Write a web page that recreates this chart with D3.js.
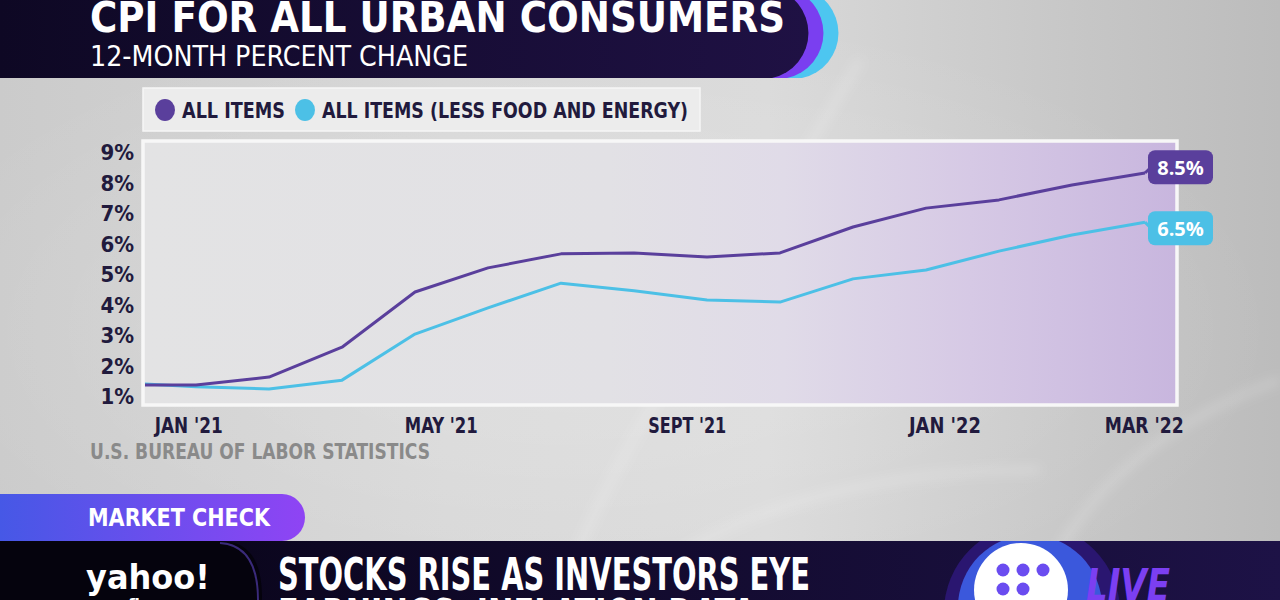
<!DOCTYPE html>
<html><head><meta charset="utf-8">
<script src="https://cdn.jsdelivr.net/npm/d3@7"></script>
<style>html,body{margin:0;padding:0;background:#d0d0d0;overflow:hidden}</style>
</head><body><svg id="c" width="1280" height="600"></svg>
<script>
// ---- data ----
const months = ["JAN '21","FEB '21","MAR '21","APR '21","MAY '21","JUN '21","JUL '21","AUG '21","SEPT '21","OCT '21","NOV '21","DEC '21","JAN '22","FEB '22","MAR '22"];
const allItems  = [1.36,1.36,1.62,2.60,4.41,5.20,5.66,5.69,5.56,5.69,6.54,7.16,7.43,7.92,8.31];
const coreItems = [1.43,1.30,1.23,1.52,3.03,3.89,4.70,4.45,4.15,4.08,4.84,5.13,5.75,6.28,6.70];
const yTicks = [1,2,3,4,5,6,7,8,9];
const xTickLabels = ["JAN '21","MAY '21","SEPT '21","JAN '22","MAR '22"];
const xTickAt = [0.9, 4.36, 7.73, 11.26, 13.99]; // label positions in month-index units
const xTickWidths = [68,73,78,72,79];
const seriesNames = ["ALL ITEMS","ALL ITEMS (LESS FOOD AND ENERGY)"];
const endValues = [8.5, 6.5];
const endLabels = ["8.5%","6.5%"];
const title = "CPI FOR ALL URBAN CONSUMERS";
const subtitle = "12-MONTH PERCENT CHANGE";
const source = "U.S. BUREAU OF LABOR STATISTICS";

// ---- styles ----
const PURPLE = "#5a3f9c", CYAN = "#4cc0e6", NAVY = "#211a3d";
const NARROW = "'Liberation Sans Narrow','DejaVu Sans Condensed',sans-serif";

const svg = d3.select("#c");
const defs = svg.append("defs");

const bg = defs.append("linearGradient").attr("id","bg").attr("x1",0).attr("x2",1).attr("y1",0).attr("y2",0);
[[0,"#cbcbcb"],[0.35,"#d6d6d6"],[0.6,"#d9d9d9"],[0.85,"#c6c6c6"],[1,"#bcbcbc"]].forEach(([o,c])=>bg.append("stop").attr("offset",o).attr("stop-color",c));
const hl = defs.append("radialGradient").attr("id","hl").attr("cx",0.45).attr("cy",0.55).attr("r",0.55);
hl.append("stop").attr("offset",0).attr("stop-color","#fff").attr("stop-opacity",0.25);
hl.append("stop").attr("offset",1).attr("stop-color","#fff").attr("stop-opacity",0);
const plotG = defs.append("linearGradient").attr("id","plotbg").attr("x1",0).attr("x2",1).attr("y1",0).attr("y2",0);
[[0,"#e3e3e4"],[0.45,"#e2e1e5"],[0.62,"#e0dbe8"],[0.8,"#d6c9e5"],[1,"#c8b6de"]].forEach(([o,c])=>plotG.append("stop").attr("offset",o).attr("stop-color",c));
const banner = defs.append("linearGradient").attr("id","banner").attr("x1",0).attr("x2",1);
banner.append("stop").attr("offset",0).attr("stop-color","#0e0824");
banner.append("stop").attr("offset",1).attr("stop-color","#1f1144");
const tab = defs.append("linearGradient").attr("id","tab").attr("x1",0).attr("x2",1);
tab.append("stop").attr("offset",0).attr("stop-color","#4658e6");
tab.append("stop").attr("offset",1).attr("stop-color","#8f44f4");
const bar = defs.append("linearGradient").attr("id","bar").attr("x1",0).attr("x2",1);
bar.append("stop").attr("offset",0).attr("stop-color","#05030f");
bar.append("stop").attr("offset",0.25).attr("stop-color","#0d0722");
bar.append("stop").attr("offset",1).attr("stop-color","#1d1246");
defs.append("filter").attr("id","blur").append("feGaussianBlur").attr("stdDeviation",6);
defs.append("clipPath").attr("id","barclip").append("rect").attr("x",0).attr("y",541).attr("width",1280).attr("height",59);

svg.append("rect").attr("width",1280).attr("height",600).attr("fill","url(#bg)");
svg.append("rect").attr("width",1280).attr("height",600).attr("fill","url(#hl)");
const sw = svg.append("g").attr("fill","none").attr("stroke","#ffffff").attr("stroke-opacity",0.3).attr("stroke-width",5).attr("filter","url(#blur)");
sw.append("path").attr("d","M560,600 C600,470 720,300 860,60");
sw.append("path").attr("d","M620,600 C700,520 850,470 1040,470");
sw.append("path").attr("d","M1040,600 C1060,520 1140,430 1280,380");

// ---- title banner ----
const tb = svg.append("g");
const bannerPath = (R)=>`M0,-12 H${R-46} A46,46 0 0 1 ${R-46},78 H0 Z`;
tb.append("path").attr("d",bannerPath(848)).attr("fill","#4dc6f0");
tb.append("path").attr("d",bannerPath(833)).attr("fill","#7a3ff0");
tb.append("path").attr("d",bannerPath(818)).attr("fill","url(#banner)");
tb.append("text").attr("x",90).attr("y",32).attr("fill","#fff")
  .attr("font-family",NARROW).attr("font-weight",700).attr("font-size",42)
  .attr("textLength",695).attr("lengthAdjust","spacingAndGlyphs").text(title);
tb.append("text").attr("x",90).attr("y",66).attr("fill","#fff")
  .attr("font-family",NARROW).attr("font-weight",400).attr("font-size",28)
  .attr("textLength",378).attr("lengthAdjust","spacingAndGlyphs").text(subtitle);

// ---- legend ----
const lg = svg.append("g");
lg.append("rect").attr("x",143).attr("y",88).attr("width",557).attr("height",43).attr("fill","#ececec").attr("stroke","#f6f6f6").attr("stroke-width",1.5);
const legItems = [{c:PURPLE,cx:165,tx:182,w:103},{c:CYAN,cx:305,tx:322,w:366}];
legItems.forEach((d,i)=>{
  lg.append("ellipse").attr("cx",d.cx).attr("cy",110).attr("rx",10).attr("ry",11).attr("fill",d.c);
  lg.append("text").attr("x",d.tx).attr("y",118).attr("fill",NAVY).attr("font-family",NARROW)
    .attr("font-weight",700).attr("font-size",22).attr("textLength",d.w).attr("lengthAdjust","spacingAndGlyphs").text(seriesNames[i]);
});

// ---- plot ----
const plot = {x0:143,x1:1177,y0:141,y1:405};
const x = d3.scaleLinear().domain([0,months.length-1]).range([123,1145]);
const y = d3.scaleLinear().domain([1,9]).range([396,152]);

svg.append("rect").attr("x",plot.x0).attr("y",plot.y0).attr("width",plot.x1-plot.x0).attr("height",plot.y1-plot.y0)
  .attr("fill","url(#plotbg)").attr("stroke","#f7f7f7").attr("stroke-width",3.5);
defs.append("clipPath").attr("id","clip").append("rect").attr("x",plot.x0+2).attr("y",plot.y0).attr("width",plot.x1-plot.x0).attr("height",plot.y1-plot.y0);

const line = d3.line().x((d,i)=>x(i)).y(d=>y(d));
const lines = svg.append("g").attr("clip-path","url(#clip)").attr("fill","none").attr("stroke-width",3).attr("stroke-linejoin","round");
lines.append("path").attr("d",line(coreItems)).attr("stroke",CYAN);
lines.append("path").attr("d",line(allItems)).attr("stroke",PURPLE);

const yAxis = d3.axisLeft(y).tickValues(yTicks).tickFormat(d=>d+"%").tickSize(0).tickPadding(0);
const ya = svg.append("g").attr("transform","translate(134,0)").call(yAxis);
ya.select(".domain").remove();
ya.selectAll("text").attr("fill",NAVY).attr("font-family",NARROW).attr("font-weight",700).attr("font-size",22).attr("dy","0.36em");

const xa = svg.append("g");
xa.selectAll("text").data(xTickLabels).join("text")
  .attr("x",(d,i)=>x(xTickAt[i])-xTickWidths[i]/2).attr("y",433)
  .attr("fill",NAVY).attr("font-family",NARROW).attr("font-weight",700).attr("font-size",22)
  .attr("textLength",(d,i)=>xTickWidths[i]).attr("lengthAdjust","spacingAndGlyphs").text(d=>d);

svg.append("text").attr("x",90).attr("y",459).attr("fill","#8a8a8a").attr("font-family",NARROW)
  .attr("font-weight",700).attr("font-size",21).attr("textLength",340).attr("lengthAdjust","spacingAndGlyphs").text(source);

const ends = [{v:allItems,c:PURPLE},{v:coreItems,c:CYAN}];
ends.forEach((d,i)=>{
  const last = d.v.length-1;
  const ly = y(endValues[i]);
  svg.append("path").attr("d",`M${x(last)},${y(d.v[last])} L${x(last)+6},${ly}`).attr("stroke",d.c).attr("stroke-width",3).attr("fill","none");
  svg.append("rect").attr("x",1148).attr("y",ly-17).attr("width",65).attr("height",34).attr("rx",7).attr("fill",d.c);
  svg.append("text").attr("x",1180.5).attr("y",ly+7.5).attr("text-anchor","middle").attr("fill","#fff")
    .attr("font-family","'Open Sans',sans-serif").attr("font-weight",700).attr("font-size",20).text(endLabels[i]);
});

// ---- market check tab ----
svg.append("path").attr("d","M0,494 H282 A23,23.5 0 0 1 282,541 H0 Z").attr("fill","url(#tab)");
svg.append("text").attr("x",88).attr("y",526).attr("fill","#fff").attr("font-family",NARROW).attr("font-weight",700)
  .attr("font-size",25).attr("textLength",182).attr("lengthAdjust","spacingAndGlyphs").text("MARKET CHECK");

// ---- bottom bar ----
svg.append("rect").attr("x",0).attr("y",541).attr("width",1280).attr("height",59).attr("fill","url(#bar)");
svg.append("path").attr("d","M0,541 H220 C258,541 262,575 262,600 H0 Z").attr("fill","#05030d");
svg.append("path").attr("d","M220,543 C252,545 258,575 258,600").attr("fill","none").attr("stroke","#3a2a7a").attr("stroke-width",2);
svg.append("text").attr("x",86).attr("y",589).attr("fill","#fff").attr("font-family","'DejaVu Sans',sans-serif")
  .attr("font-weight",700).attr("font-size",34).attr("textLength",124).attr("lengthAdjust","spacingAndGlyphs").text("yahoo!");
svg.append("text").attr("x",128).attr("y",610).attr("fill","#fff").attr("font-family","'DejaVu Sans',sans-serif")
  .attr("font-weight",700).attr("font-size",16).text("finance");
svg.append("text").attr("x",278).attr("y",590).attr("fill","#fff").attr("font-family",NARROW).attr("font-weight",700)
  .attr("font-size",45).attr("textLength",532).attr("lengthAdjust","spacingAndGlyphs").text("STOCKS RISE AS INVESTORS EYE");
svg.append("text").attr("x",278).attr("y",631).attr("fill","#fff").attr("font-family",NARROW).attr("font-weight",700)
  .attr("font-size",45).attr("textLength",478).attr("lengthAdjust","spacingAndGlyphs").text("EARNINGS, INFLATION DATA");

// live logo
const lv = svg.append("g").attr("clip-path","url(#barclip)");
lv.append("circle").attr("cx",1032).attr("cy",612).attr("r",88).attr("fill","#2a1670");
lv.append("circle").attr("cx",1030).attr("cy",607).attr("r",72).attr("fill","#3b58dc");
lv.append("circle").attr("cx",1021).attr("cy",590).attr("r",47).attr("fill","#ffffff");
const dots = [[1003,570],[1023,570],[1043,570],[1003,589],[1023,589],[1003,608]];
lv.selectAll(".dot").data(dots).join("circle").attr("cx",d=>d[0]).attr("cy",d=>d[1]).attr("r",6.5).attr("fill","#6a4cf0");
svg.append("text").attr("x",1086).attr("y",601).attr("fill","#7b3ff2").attr("font-family","'DejaVu Sans',sans-serif")
  .attr("font-weight",700).attr("font-style","italic").attr("font-size",44).attr("textLength",84).attr("lengthAdjust","spacingAndGlyphs").text("LIVE");
</script></body></html>
